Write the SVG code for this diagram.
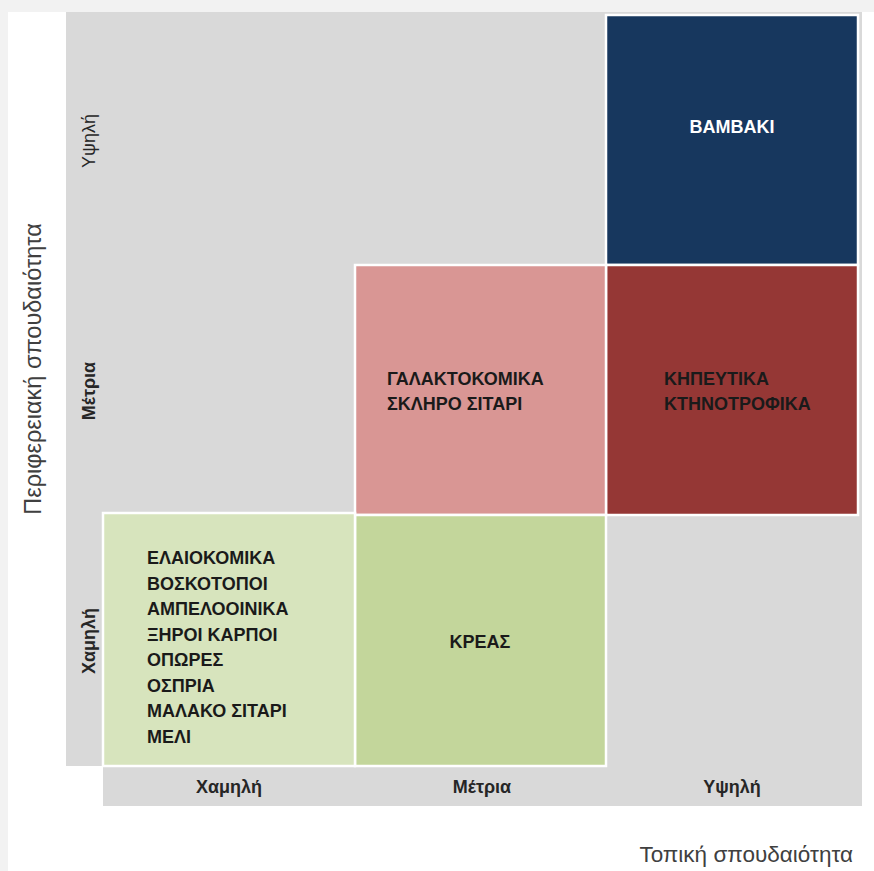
<svg xmlns="http://www.w3.org/2000/svg" width="874" height="871" viewBox="0 0 874 871">
  <style>
    .cell { stroke: #ffffff; stroke-width: 2.5; }
    .item { font-family: "Liberation Sans", Arial, sans-serif; font-weight: bold; font-size: 18px; fill: #1a1a1a; }
    .axis { font-family: "Liberation Sans", Arial, sans-serif; font-size: 18px; fill: #262626; }
    .title { font-family: "Liberation Sans", Arial, sans-serif; font-size: 22.5px; fill: #404040; }
  </style>
  <rect x="0" y="0" width="874" height="871" fill="#f2f2f2"/>
  <rect x="8" y="12" width="866" height="859" fill="#ffffff"/>
  <g id="panel">
    <rect x="66" y="12" width="796" height="754" fill="#d9d9d9"/>
    <rect x="103" y="766" width="759" height="40" fill="#d9d9d9"/>
  </g>
  <g id="axis-y">
    <text class="title" font-size="23.5" style="font-size:23.5px" transform="translate(41,369) rotate(-90)" text-anchor="middle">Περιφερειακή σπουδαιότητα</text>
    <text class="axis" transform="translate(95,141) rotate(-90)" text-anchor="middle">Υψηλή</text>
    <text class="axis" font-weight="bold" transform="translate(95,391) rotate(-90)" text-anchor="middle">Μέτρια</text>
    <text class="axis" font-weight="bold" transform="translate(95,641) rotate(-90)" text-anchor="middle">Χαμηλή</text>
  </g>
  <g id="axis-x">
    <text class="axis" font-weight="bold" x="229" y="793" text-anchor="middle">Χαμηλή</text>
    <text class="axis" font-weight="bold" x="482" y="793" text-anchor="middle">Μέτρια</text>
    <text class="axis" font-weight="bold" x="732" y="793" text-anchor="middle">Υψηλή</text>
    <text class="title" x="853" y="862" text-anchor="end">Τοπική σπουδαιότητα</text>
  </g>
  <g id="cell-bambaki">
    <rect class="cell" x="606" y="15" width="252" height="250" fill="#17375e"/>
    <text class="item" x="732" y="133" text-anchor="middle" style="fill:#ffffff">ΒΑΜΒΑΚΙ</text>
  </g>
  <g id="cell-kipeutika">
    <rect class="cell" x="606" y="265" width="252" height="250" fill="#953735"/>
    <text class="item" x="664" y="385">ΚΗΠΕΥΤΙΚΑ</text>
    <text class="item" x="664" y="410">ΚΤΗΝΟΤΡΟΦΙΚΑ</text>
  </g>
  <g id="cell-galaktokomika">
    <rect class="cell" x="355" y="265" width="251" height="250" fill="#d99694"/>
    <text class="item" x="387" y="385">ΓΑΛΑΚΤΟΚΟΜΙΚΑ</text>
    <text class="item" x="387" y="410">ΣΚΛΗΡΟ ΣΙΤΑΡΙ</text>
  </g>
  <g id="cell-kreas">
    <rect class="cell" x="355" y="515" width="251" height="251" fill="#c3d69b"/>
    <text class="item" x="480" y="648" text-anchor="middle">ΚΡΕΑΣ</text>
  </g>
  <g id="cell-elaiokomika">
    <rect class="cell" x="103" y="513" width="252" height="253" fill="#d7e4bd"/>
    <text class="item" x="147" y="564">ΕΛΑΙΟΚΟΜΙΚΑ</text>
    <text class="item" x="147" y="589.5">ΒΟΣΚΟΤΟΠΟΙ</text>
    <text class="item" x="147" y="615">ΑΜΠΕΛΟΟΙΝΙΚΑ</text>
    <text class="item" x="147" y="640.5">ΞΗΡΟΙ ΚΑΡΠΟΙ</text>
    <text class="item" x="147" y="666">ΟΠΩΡΕΣ</text>
    <text class="item" x="147" y="691.5">ΟΣΠΡΙΑ</text>
    <text class="item" x="147" y="717">ΜΑΛΑΚΟ ΣΙΤΑΡΙ</text>
    <text class="item" x="147" y="742.5">ΜΕΛΙ</text>
  </g>
  <g id="connectors"/>
</svg>
